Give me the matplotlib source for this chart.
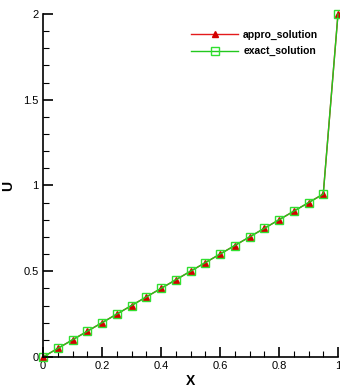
import matplotlib
matplotlib.use("Agg")
import matplotlib.pyplot as plt
from matplotlib.ticker import MultipleLocator

plt.rcParams['font.family'] = ['Liberation Sans', 'DejaVu Sans']

x = [0.0, 0.05, 0.1, 0.15, 0.2, 0.25, 0.3, 0.35, 0.4, 0.45, 0.5,
     0.55, 0.6, 0.65, 0.7, 0.75, 0.8, 0.85, 0.9, 0.95, 1.0]
u_appro = [0.0, 0.05, 0.1, 0.15, 0.2, 0.25, 0.3, 0.35, 0.4, 0.45, 0.5,
           0.55, 0.6, 0.65, 0.7, 0.75, 0.8, 0.85, 0.9, 0.95, 2.0]
u_exact = [0.0, 0.05, 0.1, 0.15, 0.2, 0.25, 0.3, 0.35, 0.4, 0.45, 0.5,
           0.55, 0.6, 0.65, 0.7, 0.75, 0.8, 0.85, 0.9, 0.95, 2.0]

fig = plt.figure(figsize=(3.4, 3.89), dpi=100)
ax = fig.add_axes([43 / 340, 1 - 357 / 389, 295 / 340, 343 / 389])

ax.plot(x, u_appro, color="#e41a1c", marker="^", markersize=5,
        markerfacecolor="#d40000", markeredgecolor="#d40000",
        linewidth=1, label="appro_solution", clip_on=False)
ax.plot(x, u_exact, color="#22c81e", marker="s", markersize=6,
        markerfacecolor="none", markeredgecolor="#30e030",
        markeredgewidth=1, linewidth=1, label="exact_solution", clip_on=False)

ax.set_xlim(0, 1)
ax.set_ylim(0, 2)
ax.xaxis.set_major_locator(MultipleLocator(0.2))
ax.xaxis.set_minor_locator(MultipleLocator(0.05))
ax.yaxis.set_major_locator(MultipleLocator(0.5))
ax.yaxis.set_minor_locator(MultipleLocator(0.1))
ax.xaxis.set_major_formatter(plt.FuncFormatter(lambda v, p: "%g" % v))
ax.yaxis.set_major_formatter(plt.FuncFormatter(lambda v, p: "%g" % v))

for s in ["top", "right"]:
    ax.spines[s].set_visible(False)
for s in ["left", "bottom"]:
    ax.spines[s].set_linewidth(1.2)
ax.tick_params(which="major", direction="in", length=7, width=1.2,
               labelsize=8, pad=3)
ax.tick_params(which="minor", direction="in", length=4, width=0.8)

ax.set_xlabel("X", fontsize=10, fontweight="bold", labelpad=2)
ax.set_ylabel("U", fontsize=10, fontweight="bold", labelpad=6)

ax.legend(loc="upper left", bbox_to_anchor=(0.488, 0.966), frameon=False,
          prop={"size": 7.5, "weight": "bold"},
          handlelength=4.5, handletextpad=0.5, labelspacing=0.6,
          borderaxespad=0)

fig.savefig("out.png", dpi=100)
